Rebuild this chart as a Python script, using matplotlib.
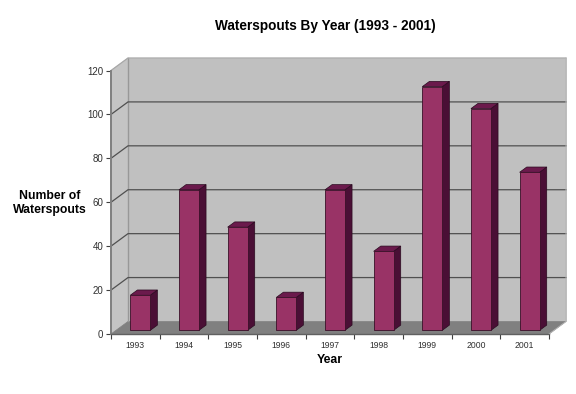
import matplotlib
matplotlib.use("Agg")
import matplotlib.pyplot as plt
from matplotlib.patches import Polygon

years = ["1993", "1994", "1995", "1996", "1997", "1998", "1999", "2000", "2001"]
counts = [16, 64, 47, 15, 64, 36, 111, 101, 72]
y_ticks = [0, 20, 40, 60, 80, 100, 120]

W, H = 576, 394
# pixel box of the axes, includes the oblique depth
left, right, top, bottom = 111, 566, 58, 334
n = len(years)
y_max = 120
# how far one unit of depth shifts things, in data units
depth_x = 17 / ((549 - 111) / n)
depth_y = 12.5 / ((333.7 - 70.7) / y_max)
bar_w = 0.41
bar_front = 0.29
bar_back = 0.71

FRONT = "#993366"
SIDE = "#4a0f35"
TOP = "#6b1a4c"
WALL = "#c0c0c0"
FLOOR = "#808080"
GRID = "#505050"
AXIS = "#808080"
TEXT = "#303030"


def proj(x, y, d):
    return (x + d * depth_x, y + d * depth_y)


fig = plt.figure(figsize=(W / 100, H / 100), dpi=100, facecolor="white")
plt.rcParams["font.family"] = ["Liberation Sans", "DejaVu Sans"]
ax = fig.add_axes([left / W, 1 - bottom / H, (right - left) / W, (bottom - top) / H])
ax.set_xlim(0, n + depth_x)
ax.set_ylim(0, y_max + depth_y)
ax.patch.set_visible(False)
for s in ax.spines.values():
    s.set_visible(False)


def face(pts, color, edge=None, lw=0.6, z=1):
    ax.add_patch(Polygon(pts, closed=True, facecolor=color, edgecolor=edge or color,
                         linewidth=lw, zorder=z, clip_on=False))


# walls and floor
face([proj(0, 0, 1), proj(n, 0, 1), proj(n, y_max, 1), proj(0, y_max, 1)], WALL, WALL, 0.5, 1)
face([proj(0, 0, 0), proj(0, 0, 1), proj(0, y_max, 1), proj(0, y_max, 0)], "#c4c4c4", "#c4c4c4", 0.5, 1)
face([proj(0, 0, 0), proj(n, 0, 0), proj(n, 0, 1), proj(0, 0, 1)], FLOOR, FLOOR, 0.5, 1)
ax.plot(*zip(proj(0, 0, 1), proj(0, y_max, 1)), color="#989898", lw=1.0, zorder=2, clip_on=False)

# gridlines on the side wall and back wall
for v in y_ticks[1:-1]:
    ax.plot(*zip(proj(0, v, 0), proj(0, v, 1), proj(n, v, 1)), color=GRID, lw=0.9, zorder=2,
            clip_on=False)
ax.plot(*zip(proj(0, y_max, 0), proj(0, y_max, 1), proj(n, y_max, 1)), color="#a8a8a8", lw=0.9,
        zorder=2, clip_on=False)
ax.plot(*zip(proj(n, 0, 0), proj(n, 0, 1), proj(n, y_max, 1)), color="#b4b4b4", lw=0.7, zorder=2,
        clip_on=False)

# bars
for i, v in enumerate(counts):
    x0 = i + 0.5 - bar_w / 2
    x1 = i + 0.5 + bar_w / 2
    face([proj(x1, 0, bar_front), proj(x1, 0, bar_back), proj(x1, v, bar_back), proj(x1, v, bar_front)],
         SIDE, "#2a0a20", 0.5, 3)
    face([proj(x0, v, bar_front), proj(x1, v, bar_front), proj(x1, v, bar_back), proj(x0, v, bar_back)],
         TOP, "#2a0a20", 0.5, 3)
    face([proj(x0, 0, bar_front), proj(x1, 0, bar_front), proj(x1, v, bar_front), proj(x0, v, bar_front)],
         FRONT, "#3a1028", 0.6, 4)

# front axis lines
ax.plot([0, 0], [0, y_max], color=AXIS, lw=1.4, zorder=5, clip_on=False)
ax.plot([0, n], [0, 0], color="#606060", lw=1.0, zorder=5, clip_on=False)

ax.set_yticks(y_ticks)
ax.set_yticklabels([str(v) for v in y_ticks], fontsize=7, color=TEXT)
ax.set_xticks(range(n + 1))
ax.set_xticklabels([])
ax.set_xticks([i + 0.5 for i in range(n)], minor=True)
ax.set_xticklabels(years, minor=True, fontsize=6.2, color=TEXT)
ax.tick_params(axis="y", length=3.5, width=0.8, color="#404040", pad=2)
ax.tick_params(axis="x", which="major", length=3.5, width=0.8, color="#404040")
ax.tick_params(axis="x", which="minor", length=0, pad=5)

fig.text(325 / W, 1 - 26 / H, "Waterspouts By Year (1993 - 2001)", ha="center", va="center",
         fontsize=9.8, fontweight="bold", color="black")
fig.text(50 / W, 1 - 203 / H, "Number of\nWaterspouts", ha="center", va="center", fontsize=8.8,
         fontweight="bold", color="black", linespacing=1.25)
fig.text(330 / W, 1 - 360 / H, "Year", ha="center", va="center", fontsize=8.8, fontweight="bold",
         color="black")

fig.savefig("out.png", dpi=100, facecolor="white")
